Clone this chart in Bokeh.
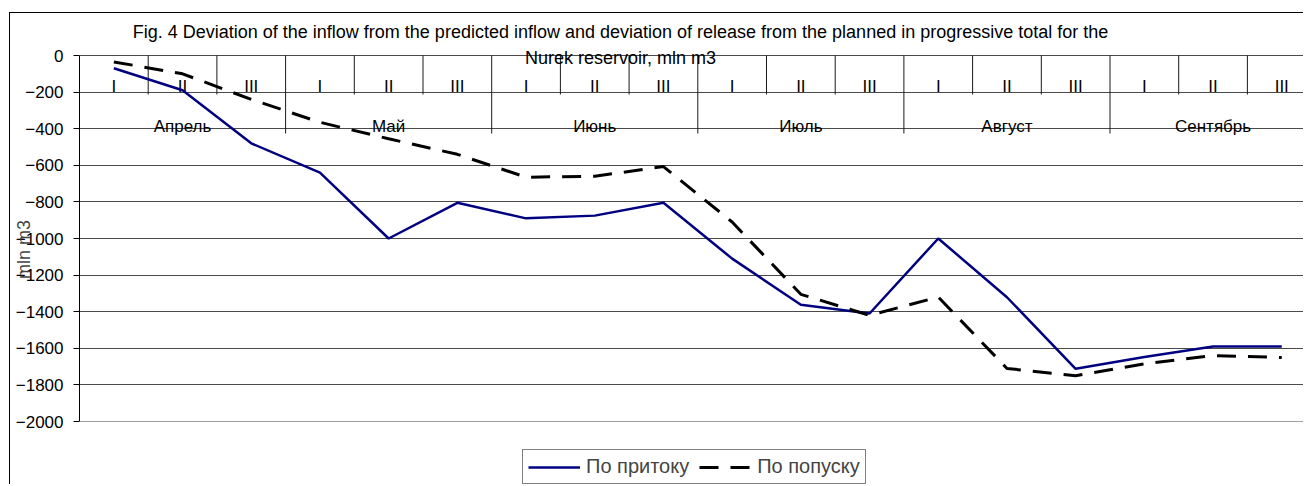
from bokeh.plotting import figure
from bokeh.models import (Range1d, Legend, LegendItem, Label, FixedTicker, Span)
from bokeh.core.properties import value
from bokeh.embed import file_html
from bokeh.resources import INLINE

# ---------------- data ----------------
months = ["Апрель", "Май", "Июнь", "Июль", "Август", "Сентябрь"]
decades = ["I", "II", "III"]
inflow = [-70, -190, -480, -640, -1000, -805, -890, -875, -805,
          -1110, -1362, -1410, -1000, -1321, -1712, -1648, -1590, -1590]
release = [-35, -100, -240, -365, -455, -540, -665, -660, -607,
           -910, -1305, -1420, -1320, -1710, -1750, -1685, -1640, -1650]
y_ticks = [0, -200, -400, -600, -800, -1000, -1200, -1400, -1600, -1800, -2000]
title_lines = ["Fig. 4 Deviation of the inflow from the predicted inflow and deviation of release from the planned in progressive total for the",
               "Nurek reservoir, mln m3"]
y_title = "mln m3"
series_names = ["По притоку", "По попуску"]

FONT = "Liberation Sans"

n = len(months) * len(decades)
xs = list(range(n))

# pixel layout (page coordinates); canvas origin after 9/12 px margin + 1 px border
ORG_X, ORG_Y = 10, 13
W, H = 1294, 472
FL = 79                      # frame left (axis line)
AX_T, AX_B = 55, 421         # pixel rows of 0 and -2000
FR = ORG_X + W
col_w = 68.7
x_lo = -0.5
x_hi = x_lo + (FR - FL) / col_w
py_per_unit = (AX_B - AX_T) / 2000.0


def dx(px):
    return x_lo + (px - FL) / col_w


def dy(py):
    return -(py - AX_T) / py_per_unit


p = figure(width=W, height=H, output_backend="svg", toolbar_location=None,
           x_range=Range1d(x_lo, x_hi), y_range=Range1d(dy(ORG_Y + H), dy(ORG_Y)),
           x_axis_location=None, min_border_left=FL - ORG_X, min_border_top=0,
           min_border_bottom=0, min_border_right=0,
           background_fill_color="white", border_fill_color="white")
p.outline_line_color = None
p.styles = {"border-left": "1px solid black", "border-top": "1px solid black",
            "margin-left": "9px", "margin-top": "12px"}

# y axis
p.yaxis.ticker = FixedTicker(ticks=y_ticks)
p.yaxis.bounds = (y_ticks[-1], y_ticks[0])
p.yaxis.axis_line_color = "black"
p.yaxis.major_tick_line_color = "black"
p.yaxis.major_tick_out = 6
p.yaxis.major_tick_in = 0
p.yaxis.minor_tick_line_color = None
p.yaxis.major_label_standoff = 10
p.yaxis.major_label_text_font = FONT
p.yaxis.major_label_text_font_size = "17px"
p.yaxis.major_label_text_color = "black"
p.yaxis.axis_label = y_title
p.yaxis.axis_label_text_font = FONT
p.yaxis.axis_label_text_font_style = "normal"
p.yaxis.axis_label_text_font_size = "18px"
p.yaxis.axis_label_standoff = -21

p.xgrid.visible = False
p.ygrid.ticker = FixedTicker(ticks=y_ticks[:-1])
p.ygrid.bounds = (y_ticks[-1], y_ticks[0])
p.ygrid.grid_line_color = "#4a4a4a"
p.ygrid.grid_line_width = 1
p.add_layout(Span(location=y_ticks[-1], dimension="width", line_color="#a0a0a0", line_width=1))

# category table at the top of the plot area
dec_sep_x = [i + 0.5 for i in range(n - 1) if (i + 1) % 3 != 0]
mon_sep_x = [i + 0.5 for i in range(n - 1) if (i + 1) % 3 == 0]
p.segment(x0=dec_sep_x, y0=[0] * len(dec_sep_x), x1=dec_sep_x, y1=[dy(94)] * len(dec_sep_x),
          line_color="#1a1a1a", line_width=1)
p.segment(x0=mon_sep_x, y0=[0] * len(mon_sep_x), x1=mon_sep_x, y1=[dy(133)] * len(mon_sep_x),
          line_color="#1a1a1a", line_width=1)

dec_labels = [decades[i % 3] for i in range(n)]
p.text(x=xs, y=[dy(86)] * n, text=dec_labels, text_align="center", text_baseline="alphabetic",
       text_font=value(FONT), text_font_size="17px", text_color="black")
mon_x = [3 * k + 1 for k in range(len(months))]
p.text(x=mon_x, y=[dy(125.5)] * len(months), text=months, text_align="center",
       text_baseline="alphabetic", text_font=value(FONT), text_font_size="17px", text_color="black")

# series
r1 = p.line(xs, inflow, line_color="#000080", line_width=2.5)
r2 = p.line(xs, release, line_color="black", line_width=3, line_dash="19 12")

# title (two lines)
for txt, base in zip(title_lines, [31.3, 57.3]):
    p.add_layout(Label(x=dx(620), y=dy(base), text=txt, text_align="center",
                       text_baseline="alphabetic", text_font=FONT, text_font_size="18px",
                       text_color="black"))

legend = Legend(items=[LegendItem(label=series_names[0], renderers=[r1]),
                       LegendItem(label=series_names[1], renderers=[r2])],
                orientation="horizontal", location=(522 - FL, (ORG_Y + H) - 484),
                border_line_color="black", border_line_width=1,
                background_fill_color="white", background_fill_alpha=1,
                label_text_font=FONT, label_text_font_size="20px",
                glyph_width=52, glyph_height=20, label_standoff=6, spacing=10,
                padding=5, margin=0, label_height=20)
p.add_layout(legend)

open("out.html", "w").write(file_html(p, INLINE))
